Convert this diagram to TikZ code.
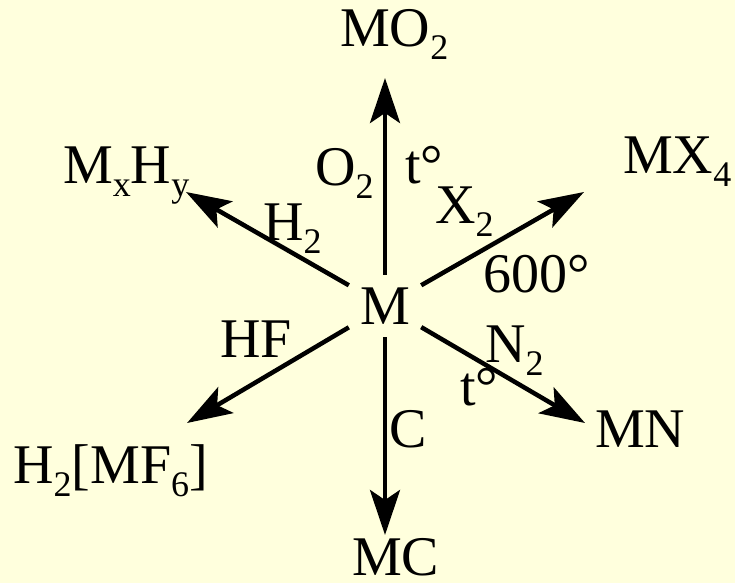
\documentclass[tikz,border=0pt]{standalone}
\usepackage{fontspec}
\setmainfont{Liberation Serif}
\usepackage{tikz}
\usetikzlibrary{arrows.meta}
\definecolor{bgyellow}{RGB}{255,255,221}
\newcommand{\chsub}[1]{\raisebox{-13pt}{\fontsize{36}{36}\selectfont #1}}
\tikzset{
  chem/.style={anchor=base west,inner sep=0pt,font=\fontsize{56}{60}\selectfont},
  rxn/.style={line width=4.5pt,-{Stealth[length=45pt,width=30pt,inset=10pt]}}
}

\begin{document}
\begin{tikzpicture}[x=1pt,y=-1pt]
  \fill[bgyellow] (0,0) rectangle (735,583);
  \useasboundingbox (0,0) rectangle (735,583);
  % 中心の金属 (矢印はこの枠の縁から出る)
  \node[minimum width=72pt,minimum height=62pt,inner sep=0pt,font=\fontsize{56}{60}\selectfont] (M) at (385,306) {M};
  % 矢印の先端
  \coordinate (tO) at (385,78);
  \coordinate (tH) at (186,192);
  \coordinate (tX) at (584,192);
  \coordinate (tF) at (187,423);
  \coordinate (tN) at (585,423);
  \coordinate (tC) at (385,535);
  \foreach \tip in {tO,tH,tX,tF,tN,tC}{
    \draw[rxn] (M) -- (\tip);
  }
  % 生成物
  \node[chem] (MO2) at (340,47) {MO\chsub{2}};
  \node[chem] (MxHy) at (63,183) {M\chsub{x}H\chsub{y}};
  \node[chem] (MX4) at (623,173) {MX\chsub{4}};
  \node[chem] (H2MF6) at (13,483) {H\chsub{2}[MF\chsub{6}]};
  \node[chem] (MN) at (595,447) {MN};
  \node[chem] (MC) at (352,575) {MC};
  % 試薬と条件
  \node[chem] (lO2) at (315,185) {O\chsub{2}};
  \node[chem] (ltO) at (405,183) {t°};
  \node[chem] (lH2) at (263,240) {H\chsub{2}};
  \node[chem] (lX2) at (435,223) {X\chsub{2}};
  \node[chem] (l600) at (483,292) {600°};
  \node[chem] (lHF) at (220,357) {HF};
  \node[chem] (lN2) at (485,362) {N\chsub{2}};
  \node[chem] (ltN) at (460,405) {t°};
  \node[chem] (lC) at (389,447) {C};
\end{tikzpicture}
\end{document}
